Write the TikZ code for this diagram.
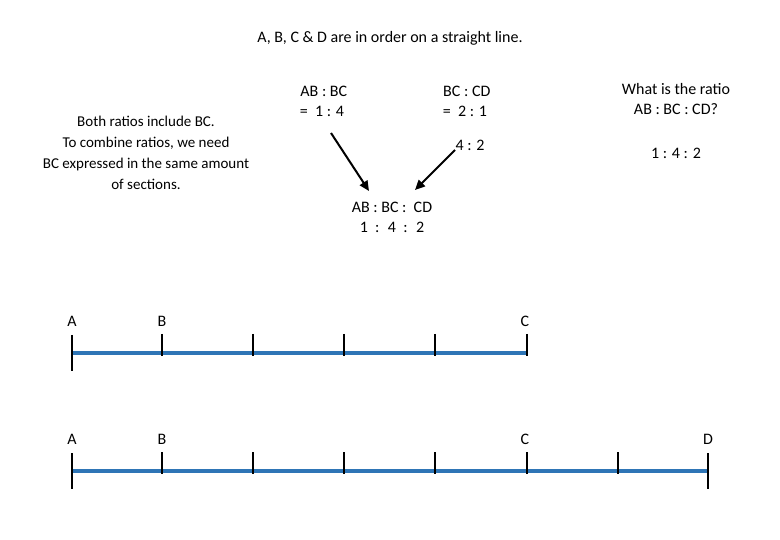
\documentclass[tikz,border=0pt]{standalone}
\usepackage{fontspec}
\setmainfont{Carlito}
\usetikzlibrary{arrows.meta}
\begin{document}
\begin{tikzpicture}[x=1pt,y=-1pt,
  txt/.style={font=\fontsize{16}{20}\selectfont,align=center,inner sep=0},
  bar/.style={line width=4.5pt,color={rgb,255:red,46;green,117;blue,182}},
  tick/.style={line width=2.5pt},
  arr/.style={line width=2pt,-{Triangle[length=10pt,width=9pt]}}]
\useasboundingbox (0,0) rectangle (780,540);
\node[txt] (title) at (390,38) {A, B, C \& D are in order on a straight line.};
\node[txt] (r1) at (322,101) {\ AB : BC\\= \ 1 : 4};
\node[txt] (r2) at (465,101) {\ BC : CD\\= \ 2 : 1};
\node[txt] (r3) at (470,145) {4 : 2};
\node[txt] (q) at (676,99) {What is the ratio\\AB : BC : CD?};
\node[txt] (qa) at (676,153) {1 : 4 : 2};
\node[txt,font=\fontsize{15}{21}\selectfont] (left) at (146,153) {Both ratios include BC.\\To combine ratios, we need\\BC expressed in the same amount\\of sections.};
\node[txt] (comb) at (392,217) {AB : BC : \ CD\\1 \ : \ 4 \ : \ 2};
\coordinate (s1) at (331,133); \coordinate (e1) at (369,191);
\coordinate (s2) at (455,150); \coordinate (e2) at (415,190);
\draw[arr] (s1) -- (e1);
\draw[arr] (s2) -- (e2);
% line 1
\coordinate (a1) at (72,353); \coordinate (c1) at (527,353);
\draw[bar] (a1) -- (c1);
\draw[tick] (72,335) -- (72,371);
\foreach \x in {162,253,344,435,527} \draw[tick] (\x,334) -- (\x,356);
\node[txt] (A1) at (72,321) {A};
\node[txt] (B1) at (162,321) {B};
\node[txt] (C1) at (525,321) {C};
% line 2
\coordinate (a2) at (72,471); \coordinate (d2) at (708,471);
\draw[bar] (a2) -- (d2);
\draw[tick] (72,453) -- (72,489);
\draw[tick] (708,453) -- (708,489);
\foreach \x in {162,253,344,435,527,618} \draw[tick] (\x,452) -- (\x,474);
\node[txt] (A2) at (72,439) {A};
\node[txt] (B2) at (162,439) {B};
\node[txt] (C2) at (525,439) {C};
\node[txt] (D2) at (708,439) {D};
\end{tikzpicture}
\end{document}
